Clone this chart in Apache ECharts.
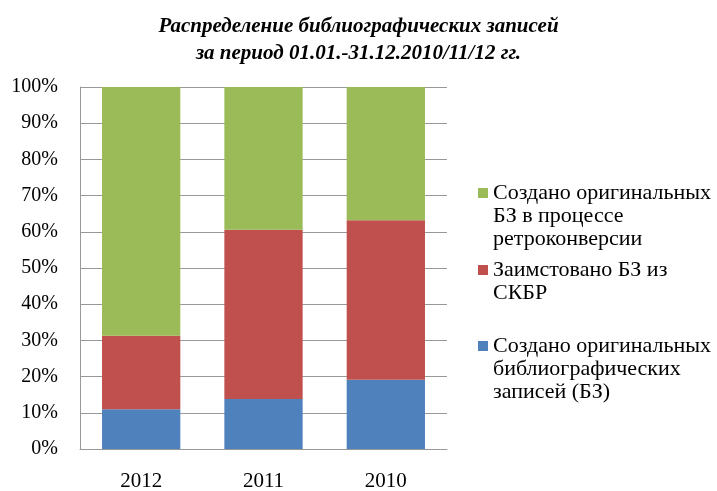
<!DOCTYPE html>
<html>
<head>
<meta charset="utf-8">
<script src="https://cdn.jsdelivr.net/npm/echarts@6/dist/echarts.min.js"></script>
<style>
  html, body { margin: 0; padding: 0; background: #fff; }
  #chart { width: 717px; height: 491px; }
</style>
</head>
<body>
<div id="chart"></div>
<script>
var categories = ['2012', '2011', '2010'];
var blueValues = [11.0, 13.8, 19.1];
var redValues = [20.3, 46.8, 44.1];
var greenValues = [68.7, 39.4, 36.8];

var nameBlue = 'Создано оригинальных\nбиблиографических\nзаписей (БЗ)';
var nameRed = 'Заимстовано БЗ из\nСКБР';
var nameGreen = 'Создано оригинальных\nБЗ в процессе\nретроконверсии';

var serif = '"Liberation Serif", "DejaVu Serif", serif';
var lh = 23;

// legend text is centred on the icon; pad with blank lines on top so the first line sits by the square
function legendAt(name, lines, iconY) {
  return {
    left: 478,
    top: iconY - (2 * lines - 1) * lh / 2,
    padding: 0,
    selectedMode: false,
    itemWidth: 10,
    itemHeight: 10,
    icon: 'rect',
    formatter: function (n) {
      var pre = '';
      for (var i = 1; i < lines; i++) pre += ' \n';
      return pre + n;
    },
    textStyle: { fontFamily: serif, fontSize: 22, color: '#000', lineHeight: lh },
    data: [name]
  };
}

var chart = echarts.init(document.getElementById('chart'));
chart.setOption({
  animation: false,
  title: {
    text: 'Распределение библиографических записей\nза период 01.01.-31.12.2010/11/12 гг.',
    left: 'center',
    top: 8,
    textStyle: {
      fontFamily: serif,
      fontSize: 21,
      fontWeight: 'bold',
      fontStyle: 'italic',
      color: '#000',
      lineHeight: 27
    }
  },
  legend: [
    legendAt(nameGreen, 3, 193),
    legendAt(nameRed, 2, 270),
    legendAt(nameBlue, 3, 346)
  ],
  grid: { left: 80, right: 270, top: 87, bottom: 42, outerBoundsMode: 'none' },
  xAxis: {
    type: 'category',
    data: categories,
    axisLine: { lineStyle: { color: '#999', width: 1 } },
    axisTick: { show: false },
    axisLabel: { fontFamily: serif, fontSize: 21, color: '#000', margin: 22 }
  },
  yAxis: {
    type: 'value',
    min: 0,
    max: 100,
    interval: 10,
    axisLine: { show: true, lineStyle: { color: '#999', width: 1 } },
    axisTick: { show: false },
    axisLabel: { formatter: '{value}%', fontFamily: serif, fontSize: 20, color: '#000', margin: 22 },
    splitLine: { lineStyle: { color: '#999', width: 1 } }
  },
  series: [
    { name: nameBlue, type: 'bar', stack: 'all', data: blueValues, barCategoryGap: '36%', itemStyle: { color: '#4F81BD' } },
    { name: nameRed, type: 'bar', stack: 'all', data: redValues, itemStyle: { color: '#C0504D' } },
    { name: nameGreen, type: 'bar', stack: 'all', data: greenValues, itemStyle: { color: '#9BBB59' } }
  ]
});
</script>
</body>
</html>
